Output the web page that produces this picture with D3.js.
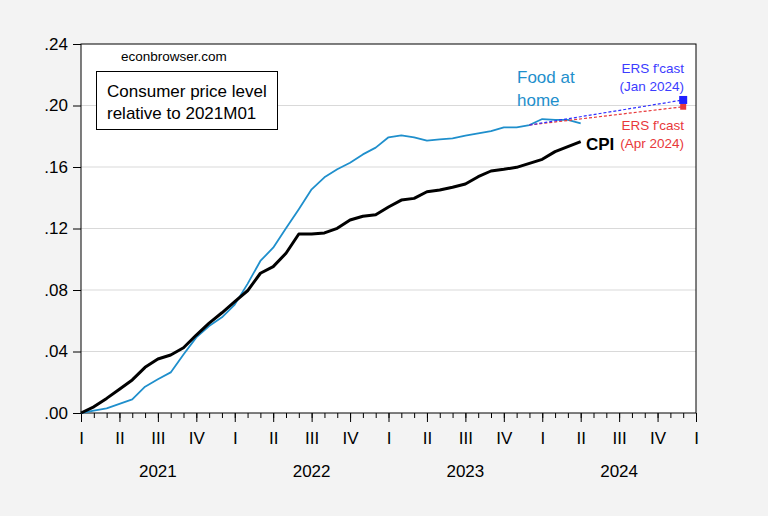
<!DOCTYPE html>
<html>
<head>
<meta charset="utf-8">
<script src="https://cdn.jsdelivr.net/npm/d3@7"></script>
<style>
  html, body { margin: 0; padding: 0; background: #f3f3f3; }
  svg { display: block; font-family: "Liberation Sans", Arial, sans-serif; }
</style>
</head>
<body>
<svg id="chart" width="768" height="516"></svg>
<script>
// ---- data (monthly, starting 2021M01; log level relative to 2021M01) ----
const startLabel = "2021M01";
const cpi = [0.000, 0.004, 0.0095, 0.0155, 0.0215, 0.0297, 0.0351, 0.0377, 0.0424, 0.0507,
             0.0585, 0.0652, 0.0725, 0.0795, 0.0909, 0.0952, 0.1039, 0.1164, 0.1164, 0.1171,
             0.1201, 0.1255, 0.1280, 0.1290, 0.1340, 0.1385, 0.1396, 0.1439, 0.1450, 0.1468,
             0.1489, 0.1537, 0.1574, 0.1585, 0.1598, 0.1624, 0.1650, 0.1700, 0.1732, 0.1765];
const foodAtHome = [0.000, 0.0015, 0.0030, 0.0059, 0.0088, 0.0171, 0.0219, 0.0264, 0.0380, 0.0492,
             0.0566, 0.0622, 0.0705, 0.0840, 0.0989, 0.1075, 0.1201, 0.1325, 0.1455, 0.1533,
             0.1585, 0.1628, 0.1682, 0.1726, 0.1793, 0.1806, 0.1793, 0.1771, 0.1780, 0.1786,
             0.1804, 0.1819, 0.1834, 0.1858, 0.1858, 0.1873, 0.1912, 0.1906, 0.1906, 0.1884];
// ERS forecasts: [month index, value]
const ersJan2024 = [[35, 0.1873], [47, 0.2036]];
const ersApr2024 = [[35, 0.1873], [47, 0.1992]];
const yTicks = [0, 0.04, 0.08, 0.12, 0.16, 0.20, 0.24];
const quarterLabels = ["I", "II", "III", "IV"];
const years = ["2021", "2022", "2023", "2024"];

// ---- layout ----
const L = 81, R = 696, T = 44, B = 413;
const svg = d3.select("#chart");
const x = d3.scaleLinear().domain([0, 48]).range([L, R]);
const y = d3.scaleLinear().domain([0, 0.24]).range([B, T]);

svg.append("rect").attr("width", 768).attr("height", 516).attr("fill", "#f3f3f3");
svg.append("rect").attr("x", L).attr("y", T).attr("width", R - L).attr("height", B - T).attr("fill", "#ffffff");

// gridlines
svg.append("g").selectAll("line").data(yTicks.filter(v => v > 0 && v < 0.24)).join("line")
  .attr("x1", L).attr("x2", R).attr("y1", d => y(d)).attr("y2", d => y(d))
  .attr("stroke", "#d9d9d9").attr("stroke-width", 1);

// y axis
const fmt = v => d3.format(".2f")(v).replace(/^0/, "");
const yAxis = svg.append("g").attr("transform", `translate(${L},0)`)
  .call(d3.axisLeft(y).tickValues(yTicks).tickFormat(fmt).tickSize(8).tickPadding(5));
yAxis.select(".domain").remove();
yAxis.selectAll("text").attr("font-size", 17).attr("fill", "#000").attr("font-family", "Liberation Sans, Arial, sans-serif");
yAxis.selectAll("line").attr("stroke", "#000");

// x axis: minor monthly ticks
const xMinor = svg.append("g").attr("transform", `translate(0,${B})`)
  .call(d3.axisBottom(x).tickValues(d3.range(0, 49)).tickFormat("").tickSize(5));
xMinor.select(".domain").remove();
xMinor.selectAll("line").attr("stroke", "#000");
// major quarterly ticks with roman labels
const xMajor = svg.append("g").attr("transform", `translate(0,${B})`)
  .call(d3.axisBottom(x).tickValues(d3.range(0, 49, 3)).tickFormat(d => quarterLabels[(d / 3) % 4]).tickSize(9).tickPadding(10));
xMajor.select(".domain").remove();
xMajor.selectAll("line").attr("stroke", "#000");
xMajor.selectAll("text").attr("font-size", 17).attr("fill", "#000").attr("font-family", "Liberation Sans, Arial, sans-serif");

// year labels
svg.append("g").selectAll("text").data(years).join("text")
  .attr("x", (d, i) => x(i * 12 + 6)).attr("y", 477)
  .attr("text-anchor", "middle").attr("font-size", 17).attr("fill", "#000")
  .text(d => d);

// frame
svg.append("rect").attr("x", L).attr("y", T).attr("width", R - L).attr("height", B - T)
  .attr("fill", "none").attr("stroke", "#000").attr("stroke-width", 1);

// lines
const line = d3.line().x(d => x(d[0])).y(d => y(d[1]));
svg.append("path").datum(foodAtHome.map((v, i) => [i, v])).attr("d", line)
  .attr("fill", "none").attr("stroke", "#1f8fcc").attr("stroke-width", 1.8).attr("stroke-linejoin", "round");
svg.append("path").datum(ersApr2024).attr("d", line)
  .attr("fill", "none").attr("stroke", "#e8383a").attr("stroke-width", 1.2).attr("stroke-dasharray", "3,2");
svg.append("path").datum(ersJan2024).attr("d", line)
  .attr("fill", "none").attr("stroke", "#2f2fff").attr("stroke-width", 1.2).attr("stroke-dasharray", "3,2");
svg.append("path").datum(cpi.map((v, i) => [i, v])).attr("d", line)
  .attr("fill", "none").attr("stroke", "#000").attr("stroke-width", 3).attr("stroke-linejoin", "round");

// forecast end markers
const jEnd = ersJan2024[ersJan2024.length - 1], aEnd = ersApr2024[ersApr2024.length - 1];
svg.append("rect").attr("x", x(aEnd[0]) - 3).attr("y", y(aEnd[1]) - 3).attr("width", 6).attr("height", 6).attr("fill", "#e8383a");
svg.append("rect").attr("x", x(jEnd[0]) - 4).attr("y", y(jEnd[1]) - 4).attr("width", 8).attr("height", 8).attr("fill", "#1f1fff");

// annotations
svg.append("text").attr("x", 121).attr("y", 61).attr("font-size", 13.5).attr("fill", "#000").text("econbrowser.com");
svg.append("rect").attr("x", 96.5).attr("y", 71.5).attr("width", 181).attr("height", 58)
  .attr("fill", "#fff").attr("stroke", "#000").attr("stroke-width", 1);
svg.append("text").attr("x", 107).attr("y", 97).attr("font-size", 17).attr("fill", "#000").text("Consumer price level");
svg.append("text").attr("x", 107).attr("y", 119).attr("font-size", 17).attr("fill", "#000").text("relative to 2021M01");

svg.append("text").attr("x", 517).attr("y", 83).attr("font-size", 17).attr("fill", "#1f8fcc").text("Food at");
svg.append("text").attr("x", 517).attr("y", 106).attr("font-size", 17).attr("fill", "#1f8fcc").text("home");

svg.append("text").attr("x", 684).attr("y", 73).attr("text-anchor", "end").attr("font-size", 13.5).attr("fill", "#3c3cff").text("ERS f'cast");
svg.append("text").attr("x", 684).attr("y", 91).attr("text-anchor", "end").attr("font-size", 13.5).attr("fill", "#3c3cff").text("(Jan 2024)");
svg.append("text").attr("x", 684).attr("y", 130).attr("text-anchor", "end").attr("font-size", 13.5).attr("fill", "#e8383a").text("ERS f'cast");
svg.append("text").attr("x", 684).attr("y", 148).attr("text-anchor", "end").attr("font-size", 13.5).attr("fill", "#e8383a").text("(Apr 2024)");

svg.append("text").attr("x", 586).attr("y", 150).attr("font-size", 17).attr("font-weight", "bold").attr("fill", "#000").text("CPI");
</script>
</body>
</html>
